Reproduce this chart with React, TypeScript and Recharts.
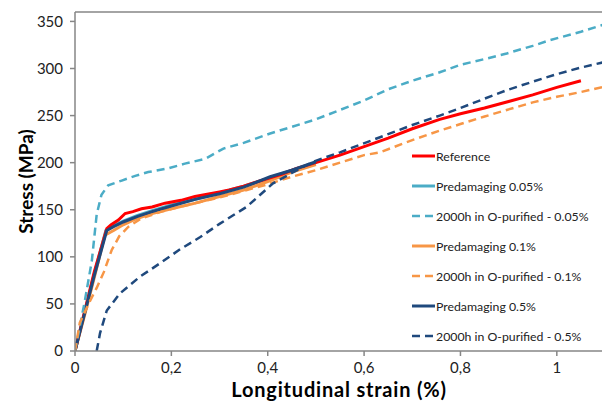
import React from 'react';
import { LineChart, Line, XAxis, YAxis, ReferenceLine } from 'recharts';

type P = [number, number];

const referenceCurve: P[] = [[0,0],[0.02,42],[0.04,84],[0.066,130],[0.075,134],[0.09,139],[0.104,146],[0.12,148],[0.138,151],[0.16,153],[0.187,157],[0.22,160],[0.249,164],[0.28,167],[0.3,169],[0.32,171],[0.35,175],[0.38,180],[0.4,183],[0.43,188],[0.46,194],[0.5,200],[0.55,208],[0.6,217],[0.65,226],[0.7,236],[0.757,246],[0.8,252],[0.85,258],[0.9,265],[0.95,272],[1.0,280],[1.05,287]];
const pre005: P[] = [[0,0],[0.02,41],[0.04,82],[0.064,128],[0.08,133],[0.1,138],[0.13,144],[0.16,149],[0.2,155],[0.25,161],[0.3,168],[0.35,175],[0.4,183],[0.45,192],[0.5,200]];
const aged005: P[] = [[0,0],[0.02,52],[0.035,96],[0.045,145],[0.055,166],[0.069,176],[0.097,181],[0.125,186],[0.152,190],[0.194,194],[0.228,199],[0.27,204],[0.308,215],[0.35,221],[0.405,231],[0.45,238],[0.5,246],[0.55,256],[0.6,266],[0.65,278],[0.7,287],[0.757,296],[0.8,304],[0.85,310],[0.896,316],[0.95,324],[0.985,330],[1.05,339],[1.1,347]];
const pre01: P[] = [[0,0],[0.02,38],[0.04,78],[0.062,123],[0.08,128],[0.1,134],[0.13,141],[0.16,146],[0.2,151],[0.25,157],[0.3,164],[0.35,171],[0.4,180],[0.45,190],[0.5,198]];
const aged01: P[] = [[0,0],[0.01,30],[0.03,52],[0.045,67],[0.06,84],[0.076,107],[0.092,122],[0.111,132],[0.138,141],[0.18,148],[0.218,153],[0.249,157],[0.3,163],[0.35,170],[0.4,177],[0.425,181],[0.45,185],[0.5,192],[0.55,200],[0.6,208],[0.633,211],[0.7,224],[0.757,234],[0.8,241],[0.85,249],[0.896,256],[0.95,264],[1.0,270],[1.05,275],[1.1,281]];
const pre05: P[] = [[0,0],[0.02,40],[0.04,80],[0.066,128],[0.08,132],[0.1,137],[0.13,143],[0.16,148],[0.2,154],[0.249,161],[0.3,167],[0.35,174],[0.405,185],[0.45,192],[0.5,201]];
const aged05: P[] = [[0.045,0],[0.052,19],[0.066,43],[0.093,61],[0.135,79],[0.176,93],[0.218,108],[0.26,121],[0.3,135],[0.356,153],[0.411,178],[0.45,189],[0.494,201],[0.55,211],[0.633,227],[0.7,240],[0.757,250],[0.8,258],[0.85,268],[0.896,277],[0.95,286],[1.0,294],[1.05,301],[1.1,307]];

const xTicks = [0, 0.2, 0.4, 0.6, 0.8, 1];
const yTicks = [0, 50, 100, 150, 200, 250, 300, 350];

const RED = '#FF0000';
const CYAN = '#4BACC6';
const ORANGE = '#F79646';
const NAVY = '#1F497D';
const AXIS = '#868686';
const FONT = 'Lato, "Open Sans", sans-serif';

const toData = (pts: P[]) => pts.map(([x, y]) => ({ x, y }));

const series = [
  { name: 'Predamaging 0.05%', pts: pre005, color: CYAN, dashed: false, w: 3 },
  { name: 'Predamaging 0.1%', pts: pre01, color: ORANGE, dashed: false, w: 3 },
  { name: 'Reference', pts: referenceCurve, color: RED, dashed: false, w: 3 },
  { name: 'Predamaging 0.5%', pts: pre05, color: NAVY, dashed: false, w: 3 },
  { name: '2000h in O-purified - 0.05%', pts: aged005, color: CYAN, dashed: true, w: 2.5 },
  { name: '2000h in O-purified - 0.1%', pts: aged01, color: ORANGE, dashed: true, w: 2.5 },
  { name: '2000h in O-purified - 0.5%', pts: aged05, color: NAVY, dashed: true, w: 2.5 },
];

const legendItems = [
  { name: 'Reference', color: RED, dashed: false },
  { name: 'Predamaging 0.05%', color: CYAN, dashed: false },
  { name: '2000h in O-purified - 0.05%', color: CYAN, dashed: true },
  { name: 'Predamaging 0.1%', color: ORANGE, dashed: false },
  { name: '2000h in O-purified - 0.1%', color: ORANGE, dashed: true },
  { name: 'Predamaging 0.5%', color: NAVY, dashed: false },
  { name: '2000h in O-purified - 0.5%', color: NAVY, dashed: true },
];

const LegendBox = () => (
  <svg width={190} height={210} style={{ position: 'absolute', left: 412, top: 148, display: 'block' }}>
    {legendItems.map((it, i) => (
      <g key={it.name} transform={`translate(0, ${i * 30 + 8})`}>
        <line x1={0} x2={23} y1={0} y2={0} stroke={it.color} strokeWidth={it.dashed ? 2.5 : 3}
          strokeDasharray={it.dashed ? '8 5' : undefined} />
        <text x={24} y={4.5} fontSize={12.3} fontFamily={FONT} fill="#222">{it.name}</text>
      </g>
    ))}
  </svg>
);

const YTitle = (props: any) => {
  const vb = props.viewBox || { x: 0, y: 12, width: 75, height: 339 };
  const cx = 25;
  const cy = vb.y + vb.height / 2;
  return (
    <text x={cx} y={cy} transform={`rotate(-90 ${cx} ${cy})`} textAnchor="middle" dominantBaseline="central"
      fontSize={19} fontWeight="bold" fontFamily={FONT} fill="#000">Stress (MPa)</text>
  );
};

const XTitle = (props: any) => {
  const vb = props.viewBox || { x: 75, y: 351, width: 530, height: 51 };
  return (
    <text x={339} y={vb.y + 46} textAnchor="middle" fontSize={20} letterSpacing={0.8} fontWeight="bold"
      fontFamily={FONT} fill="#000">
      Longitudinal strain (%)
    </text>
  );
};

const fmt = (v: number) => String(v).replace('.', ',');

export default function App() {
  return (
    <div style={{ position: 'absolute', left: 0, top: 0, width: 602, height: 402, overflow: 'hidden', background: '#fff' }}>
      <LineChart width={610} height={402} margin={{ top: 12, right: 5, bottom: 0, left: 0 }}>
        <XAxis type="number" dataKey="x" domain={[0, 1.1]} ticks={xTicks} tickFormatter={fmt}
          allowDataOverflow height={51} stroke={AXIS} strokeWidth={1.5} tickSize={5} tickMargin={6}
          tick={{ fill: '#222', fontSize: 15, fontFamily: FONT }} label={<XTitle />} />
        <YAxis type="number" domain={[0, 360]} ticks={yTicks} width={75} stroke={AXIS} strokeWidth={1.5}
          tickSize={5} tickMargin={7} allowDataOverflow
          tick={{ fill: '#222', fontSize: 15, fontFamily: FONT }} label={<YTitle />} />
        <ReferenceLine y={360} stroke={AXIS} strokeWidth={1.5} />
        <ReferenceLine x={1.1} stroke={AXIS} strokeWidth={1.5} />
        {series.map((s) => (
          <Line key={s.name} data={toData(s.pts)} dataKey="y" name={s.name} type="linear"
            stroke={s.color} strokeWidth={s.w} strokeDasharray={s.dashed ? '8 5' : undefined}
            dot={false} activeDot={false} isAnimationActive={false} legendType="none" />
        ))}
      </LineChart>
      <LegendBox />
    </div>
  );
}
